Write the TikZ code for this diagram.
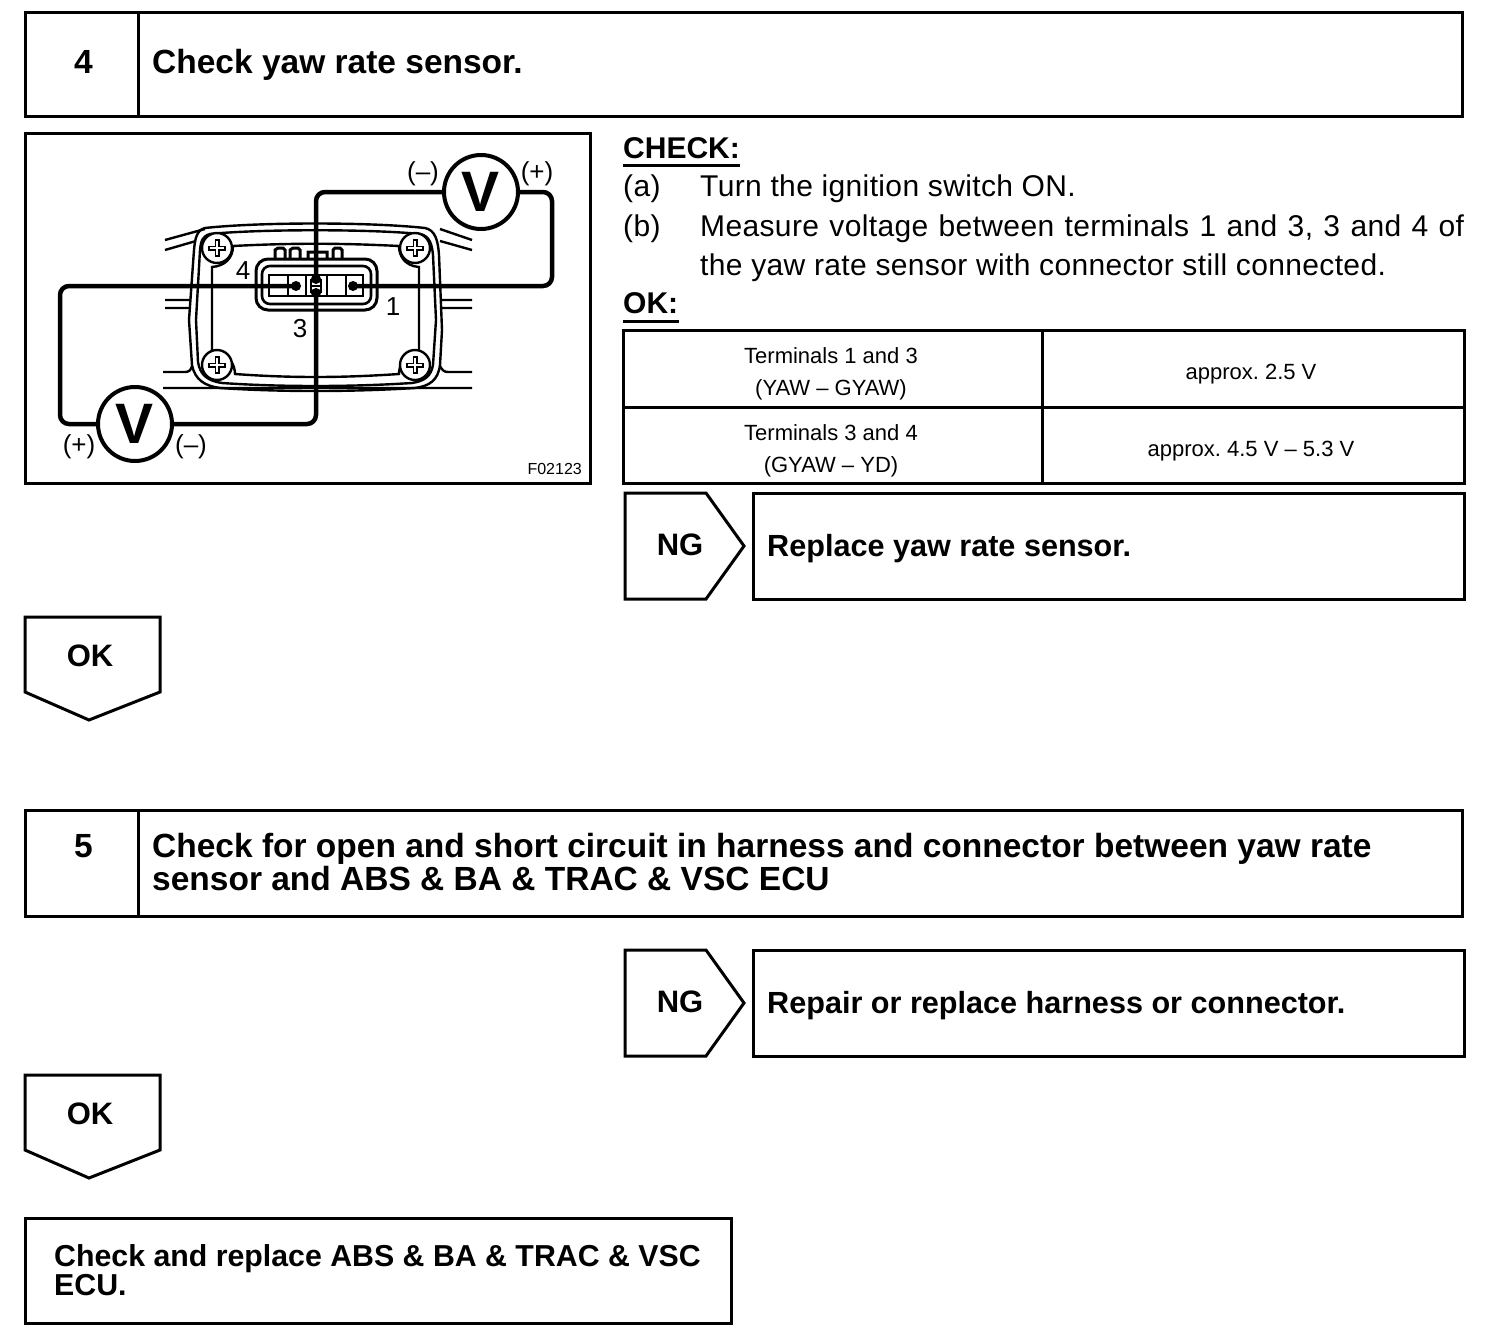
\documentclass[tikz,border=0pt]{standalone}
\usepackage{fontspec}
\setmainfont{Liberation Sans}
\newcommand{\fs}[1]{\fontsize{#1}{#1}\selectfont}
\tikzset{
  x=1pt,y=-1pt,
  frame/.style={draw=black,line width=3pt,line join=miter},
  thin part/.style={draw=black,line width=2.4pt},
  wire/.style={draw=black,line width=4.5pt,rounded corners=9pt},
  head/.style={font=\fs{33.5}\bfseries,anchor=base west,inner sep=0pt},
  sub/.style={font=\fs{30.6}\bfseries,anchor=base west,inner sep=0pt},
  tag/.style={font=\fs{31}\bfseries,inner sep=0pt},
  body/.style={font=\fs{30}\addfontfeature{LetterSpace=1.2},anchor=base west,inner sep=0pt},
  cell/.style={font=\fs{22},inner sep=0pt},
  meter/.style={circle,draw=black,line width=4pt,minimum size=74pt,inner sep=0pt,font=\fs{57}\bfseries},
  pm/.style={font=\fs{26},inner sep=0pt},
  term/.style={font=\fs{26},inner sep=0pt},
  dotmark/.style={fill=black,circle,minimum size=10pt,inner sep=0pt},
  screw/.style={circle,draw=black,line width=2.4pt,minimum size=30pt,inner sep=0pt},
}
\begin{document}\frenchspacing
\begin{tikzpicture}
\useasboundingbox (0,0) rectangle (1504,1336);
\fill[white] (0,0) rectangle (1504,1336);
% step 4
\draw[frame] (25,12) rectangle (1462,116);
\draw[frame] (138,12) -- (138,116);
\node[head] (n4) at (74,73) {4};
\node[head] (t4) at (152,73) {Check yaw rate sensor.};
% figure frame
\draw[frame] (25,133) rectangle (590,483);
% sensor body
\draw[thin part] (205,228) .. controls (260,222) and (370,222) .. (425,228)
  .. controls (435,230) and (438,240) .. (439,255) -- (442,330) -- (440,365)
  .. controls (438,380) and (430,386) .. (415,388) .. controls (350,392) and (280,392) .. (220,388)
  .. controls (205,386) and (195,380) .. (192,365) -- (189,320) -- (194,250)
  .. controls (195,238) and (197,230) .. (205,228) -- cycle;
\draw[thin part] (210,234) .. controls (260,229) and (370,229) .. (420,234)
  .. controls (430,236) and (432,245) .. (433,255) -- (436,320) -- (433,365)
  .. controls (431,376) and (425,381) .. (412,383) .. controls (350,387) and (280,387) .. (222,383)
  .. controls (208,381) and (200,375) .. (198,362) -- (196,320) -- (200,250)
  .. controls (201,240) and (203,236) .. (210,234) -- cycle;
\draw[thin part] (233,246) .. controls (290,243) and (340,243) .. (399,246)
  .. controls (399,256) and (405,266) .. (419,267) -- (419,352)
  .. controls (405,353) and (399,364) .. (399,374) .. controls (340,378) and (290,378) .. (235,374)
  .. controls (235,364) and (228,352) .. (212,351) -- (212,267)
  .. controls (225,266) and (233,258) .. (233,246) -- cycle;
% side lines
\draw[thin part] (165,240) -- (205,229) (165,250) -- (196,241)
  (440,229) -- (472,240) (440,241) -- (472,250)
  (165,300) -- (190,300) (165,308) -- (190,308)
  (440,300) -- (472,300) (440,308) -- (472,308)
  (163,372) -- (185,372) .. controls (189,372) and (191,370) .. (192,366)
  (440,366) .. controls (442,370) and (444,372) .. (448,372) -- (472,372)
  (163,388) -- (472,388);
% screws
\foreach \nm/\sx/\sy in {sa/217/248,sb/415/248,sc/217/365,sd/415/365}{
  \node[screw,fill=white] (\nm) at (\sx,\sy) {};
  \draw[line width=5pt] (\sx-9,\sy) -- (\sx+9,\sy) (\sx,\sy-9) -- (\sx,\sy+9);
  \draw[white,line width=1.4pt] (\sx-7,\sy) -- (\sx+7,\sy) (\sx,\sy-7) -- (\sx,\sy+7);
}
% connector
\draw[draw=black,line width=3pt,fill=white,rounded corners=12pt] (256,259) rectangle (377,310);
\draw[draw=black,line width=2.6pt,rounded corners=8pt] (262,266) rectangle (371,304);
\draw[draw=black,line width=2.6pt] (269,275) rectangle (363,296);
\draw[draw=black,line width=2.6pt] (288,275) -- (288,296) (306,275) -- (306,296) (327,275) -- (327,296) (346,275) -- (346,296);
\draw[draw=black,line width=2.6pt] (311,279) -- (311,293) (321,279) -- (321,293) (311,286) -- (321,286);
\draw[draw=black,line width=3pt] (275,258) -- (275,250) -- (278,248) -- (283,248) -- (285,250) -- (285,258)
  (290,258) -- (290,250) -- (293,248) -- (298,248) -- (300,250) -- (300,258)
  (308,258) -- (308,252) -- (327,252) -- (327,258)
  (333,258) -- (333,250) -- (335,248) -- (340,248) -- (342,250) -- (342,258);
\node[term] (l4) at (243,271) {4};
\node[term] (l3) at (300,329) {3};
\node[term] (l1) at (393,307) {1};
% meters and wires
\node[meter] (vt) at (481,192) {V};
\node[meter] (vb) at (135,424) {V};
\node[dotmark] (d1) at (296,286) {};
\node[dotmark] (d2) at (316,279) {};
\node[dotmark] (d3) at (316,293) {};
\node[dotmark] (d4) at (353,286) {};
\coordinate (c1) at (316,192);
\coordinate (c2) at (316,424);
\coordinate (c3) at (552,192);
\coordinate (c4) at (552,286);
\coordinate (c5) at (60,286);
\coordinate (c6) at (60,424);
\draw[wire] (vt.west) -- (c1) -- (d2.center);
\draw[wire] (vt.east) -- (c3) -- (c4) -- (d4.center);
\draw[wire] (vb.west) -- (c6) -- (c5) -- (d1.center);
\draw[wire] (vb.east) -- (c2) -- (d3.center);
\node[pm] (pa) at (423,174) {(–)};
\node[pm] (pb) at (537,174) {(+)};
\node[pm] (pc) at (79,447) {(+)};
\node[pm] (pd) at (191,447) {(–)};
\node[font=\fs{16},inner sep=0pt,anchor=east] (fig) at (582,469) {F02123};
% check text
\node[sub,font=\fs{30}\bfseries] (chk) at (623,158) {CHECK:};
\draw[line width=3pt] (623,165) -- (740,165);
\node[body] (a1) at (623,196) {(a)};
\node[body] (a2) at (700,196) {Turn the ignition switch ON.};
\node[body] (b1) at (623,236) {(b)};
\node[body] (b2) at (700,236) {\makebox[764pt][s]{Measure voltage between terminals 1 and 3, 3 and 4 of}};
\node[body] (b3) at (700,275) {the yaw rate sensor with connector still connected.};
\node[sub,font=\fs{30}\bfseries] (okh) at (623,313) {OK:};
\draw[line width=3pt] (623,321) -- (679,321);
% table
\draw[frame] (623,330) rectangle (1464,483);
\draw[frame] (623,407) -- (1464,407);
\draw[frame] (1042,330) -- (1042,483);
\node[cell] (c11) at (831,356) {Terminals 1 and 3};
\node[cell] (c12) at (831,390) {(YAW – GYAW)};
\node[cell] (c13) at (1251,374) {approx. 2.5 V};
\node[cell] (c21) at (831,433) {Terminals 3 and 4};
\node[cell] (c22) at (831,467) {(GYAW – YD)};
\node[cell] (c23) at (1251,451) {approx. 4.5 V – 5.3 V};
% NG 1
\draw[frame] (625,493) -- (706,493) -- (744,546) -- (706,599) -- (625,599) -- cycle;
\node[tag] (ng1) at (680,545) {NG};
\draw[frame] (753,493) rectangle (1464,599);
\node[sub] (r1) at (767,556) {Replace yaw rate sensor.};
% OK 1
\draw[frame] (25,617) -- (160,617) -- (160,692) -- (89,720) -- (25,692) -- cycle;
\node[tag] (ok1) at (90,656) {OK};
% step 5
\draw[frame] (25,810) rectangle (1462,916);
\draw[frame] (138,810) -- (138,916);
\node[head] (n5) at (74,857) {5};
\node[head] (t5a) at (152,857) {Check for open and short circuit in harness and connector between yaw rate};
\node[head] (t5b) at (152,890) {sensor and ABS \& BA \& TRAC \& VSC ECU};
% NG 2
\draw[frame] (625,950) -- (706,950) -- (744,1003) -- (706,1056) -- (625,1056) -- cycle;
\node[tag] (ng2) at (680,1002) {NG};
\draw[frame] (753,950) rectangle (1464,1056);
\node[sub] (r2) at (767,1013) {Repair or replace harness or connector.};
% OK 2
\draw[frame] (25,1075) -- (160,1075) -- (160,1150) -- (89,1178) -- (25,1150) -- cycle;
\node[tag] (ok2) at (90,1114) {OK};
% final
\draw[frame] (25,1218) rectangle (731,1323);
\node[sub,font=\fs{30.3}\bfseries] (e1) at (54,1266) {Check and replace ABS \& BA \& TRAC \& VSC};
\node[sub,font=\fs{30.3}\bfseries] (e2) at (54,1295) {ECU.};
\end{tikzpicture}
\end{document}
